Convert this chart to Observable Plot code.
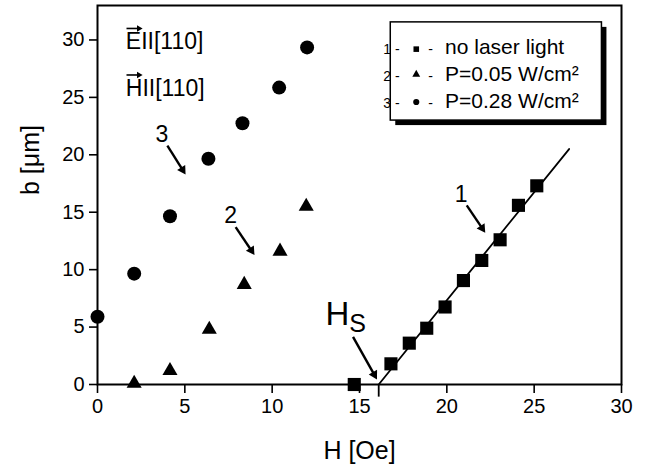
<!DOCTYPE html>
<html><head><meta charset="utf-8">
<script src="https://cdn.jsdelivr.net/npm/d3@7"></script>
<script src="https://cdn.jsdelivr.net/npm/@observablehq/plot@0.6"></script>
<style>body{margin:0;background:#fff} svg{display:block}</style>
</head><body><div id="chart"></div>
<script>
// Series 1: no laser light (squares)
const squareH = [14.7, 16.8, 17.85, 18.85, 19.9, 20.95, 22.0, 23.05, 24.1, 25.15];
const squareB = [0, 1.8, 3.6, 4.9, 6.75, 9.05, 10.8, 12.6, 15.6, 17.3];
// Series 2: P=0.05 W/cm2 (triangles)
const triangleH = [2.1, 4.15, 6.4, 8.4, 10.45, 11.95];
const triangleB = [0.1, 1.2, 4.8, 8.7, 11.6, 15.5];
// Series 3: P=0.28 W/cm2 (circles)
const circleH = [0, 2.1, 4.15, 6.35, 8.3, 10.4, 12.0];
const circleB = [5.9, 9.65, 14.65, 19.65, 22.75, 25.85, 29.35];
// Linear fit through series 1
const fitH = [16.1, 27.0];
const fitB = [0, 20.5];
// ticks
const xTicks = [0, 5, 10, 15, 20, 25, 30];
const yTicks = [0, 5, 10, 15, 20, 25, 30];
// legend
const legendNums = ["1 -", "2 -", "3 -"];
const legendTexts = ["no laser light", "P=0.05 W/cm\u00B2", "P=0.28 W/cm\u00B2"];
const legendRowB = [28.8, 26.4, 24.1];
const legendMarkB = [29.2, 27.0, 24.6];
const legendSymbols = ["square", "triangle", "circle"];
const legendR = [4.4, 3.8, 4.2];
// annotation arrows (curve numbers and Hs)
const arrowX1 = [21.14, 7.91, 4.0, 14.63];
const arrowY1 = [15.6, 13.7, 20.8, 4.14];
const arrowX2 = [22.3, 9.09, 5.14, 16.09];
const arrowY2 = [12.98, 11.04, 18.05, 0.2];
const curveLabels = ["1", "2", "3"];
const curveLabelH = [20.82, 7.62, 3.68];
const curveLabelB = [15.85, 14.03, 21.15];
// field direction labels
const fieldLabels = ["EII[110]", "HII[110]"];
const fieldLabelB = [29.2, 25.16];
const fieldArrowB = [31.0, 26.95];

const W = 646, Ht = 464, mL = 97, mR = 25, mT = 5, mB = 80;
const xDom = [0, 30], yDom = [0, 33];
const sx = d3.scaleLinear(xDom, [mL, W - mR]);
const sy = d3.scaleLinear(yDom, [Ht - mB, mT]);

const sq = squareH.map((h, i) => ({h, b: squareB[i]}));
const tr = triangleH.map((h, i) => ({h, b: triangleB[i]}));
const ci = circleH.map((h, i) => ({h, b: circleB[i]}));
const fit = fitH.map((h, i) => ({h, b: fitB[i]}));
const labs = curveLabels.map((t, i) => ({t, h: curveLabelH[i], b: curveLabelB[i]}));
const leg = legendTexts.map((t, i) => ({t, n: legendNums[i], b: legendRowB[i], mb: legendMarkB[i], s: legendSymbols[i], r: legendR[i]}));

// arrows with filled triangular heads
function makeArrow(x1, y1, x2, y2, r) {
  const p1 = [sx(x1), sy(y1)], p2 = [sx(x2), sy(y2)];
  const dx = p2[0] - p1[0], dy = p2[1] - p1[1], len = Math.hypot(dx, dy);
  const ux = dx / len, uy = dy / len;
  const k = Math.sqrt(Math.PI * r * r / (3 * Math.sqrt(3)));
  const cx = p2[0] - ux * 2 * k, cy = p2[1] - uy * 2 * k;
  return {x1, y1, hx: sx.invert(cx), hy: sy.invert(cy), rot: Math.atan2(ux, -uy) * 180 / Math.PI, r};
}
const arrows = arrowX1.map((x, i) => makeArrow(x, arrowY1[i], arrowX2[i], arrowY2[i], 5.6));
const fieldArrows = fieldArrowB.map(b => makeArrow(1.66, b, 2.6, b, 2.6));

const font = '"Liberation Sans", Arial, Helvetica, sans-serif';
const chart = Plot.plot({
  width: W, height: Ht,
  marginLeft: mL, marginRight: mR, marginTop: mT, marginBottom: mB,
  style: {fontFamily: font, fontSize: "20px", color: "#000", background: "#fff"},
  x: {domain: xDom},
  y: {domain: yDom},
  marks: [
    Plot.axisX({ticks: xTicks, tickSize: 9, tickPadding: 5, label: null, strokeWidth: 1.6, fontSize: 20}),
    Plot.axisY({ticks: yTicks, tickSize: 8, tickPadding: 5, label: null, strokeWidth: 1.6, fontSize: 20}),
    Plot.frame({stroke: "#000", strokeWidth: 2}),
    Plot.text(["H [Oe]"], {frameAnchor: "bottom", dy: 74, lineAnchor: "bottom", fontSize: 25}),
    Plot.text(["b [\u03BCm]"], {frameAnchor: "left", dx: -67, rotate: -90, fontSize: 25}),
    // fit line and Hs marker
    Plot.line(fit, {x: "h", y: "b", stroke: "#000", strokeWidth: 1.8}),
    Plot.ruleX([fitH[0]], {y1: 0, y2: -1.1, stroke: "#000", strokeWidth: 1.8}),
    // data
    Plot.dot(sq, {x: "h", y: "b", symbol: "square", r: 7.4, fill: "#000"}),
    Plot.dot(tr, {x: "h", y: "b", symbol: "triangle", r: 5.6, fill: "#000"}),
    Plot.dot(ci, {x: "h", y: "b", symbol: "circle", r: 7, fill: "#000"}),
    // annotations
    Plot.link(arrows, {x1: "x1", y1: "y1", x2: "hx", y2: "hy", stroke: "#000", strokeWidth: 2.4}),
    Plot.dot(arrows, {x: "hx", y: "hy", symbol: "triangle", r: "r", rotate: "rot", fill: "#000"}),
    Plot.text(labs, {x: "h", y: "b", text: "t", lineAnchor: "bottom", fontSize: 23}),
    Plot.text(["H"], {x: 13.05, y: 5.16, textAnchor: "start", lineAnchor: "bottom", fontSize: 33}),
    Plot.text(["S"], {x: 14.42, y: 4.55, textAnchor: "start", lineAnchor: "bottom", fontSize: 25}),
    Plot.text(fieldLabels, {x: 1.62, y: (d, i) => fieldLabelB[i], textAnchor: "start", lineAnchor: "bottom", fontSize: 23}),
    Plot.link(fieldArrows, {x1: "x1", y1: "y1", x2: "hx", y2: "hy", stroke: "#000", strokeWidth: 1.6}),
    Plot.dot(fieldArrows, {x: "hx", y: "hy", symbol: "triangle", r: "r", rotate: "rot", fill: "#000"}),
    // legend
    Plot.rect([0], {x1: 16.79, x2: 28.88, y1: 22.98, y2: 31.53, fill: "#000", dx: 5, dy: 5}),
    Plot.rect([0], {x1: 16.79, x2: 28.88, y1: 22.98, y2: 31.53, fill: "#fff", stroke: "#000", strokeWidth: 1.5}),
    Plot.text(leg, {x: 16.36, y: "b", text: "n", textAnchor: "start", lineAnchor: "bottom", fontSize: 14}),
    Plot.dot(leg, {x: 18.25, y: "mb", symbol: "s", r: "r", fill: "#000"}),
    Plot.text(leg, {x: 18.93, y: "b", text: () => "-", textAnchor: "start", lineAnchor: "bottom", fontSize: 14}),
    Plot.text(leg, {x: 19.9, y: "b", text: "t", textAnchor: "start", lineAnchor: "bottom", fontSize: 21})
  ]
});
document.getElementById("chart").appendChild(chart);
</script>
</body></html>
